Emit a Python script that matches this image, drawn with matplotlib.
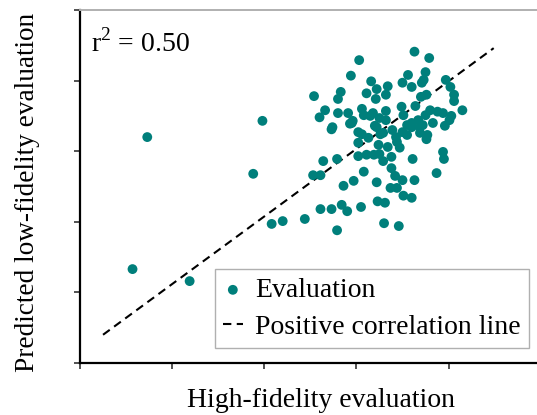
import matplotlib
matplotlib.use("Agg")
import matplotlib.pyplot as plt

plt.rcParams["font.family"] = ["Liberation Serif", "DejaVu Serif"]
plt.rcParams["mathtext.fontset"] = "custom"
plt.rcParams["mathtext.rm"] = "Liberation Serif"

TEAL = "#007F7B"

# high-fidelity (x) vs predicted low-fidelity (y), arbitrary units
hf_eval = [7.3, 19.8, 18.8, 5.7, 11.9, 20.8, 22.0, 24.4, 26.1, 27.3,
           28.4, 29.0, 30.5, 27.9, 32.3, 33.1, 35.1, 36.0, 33.0, 34.6,
           28.6, 29.7, 32.2, 33.7, 34.4, 35.0, 36.3, 25.3, 26.1, 30.8,
           33.8, 34.2, 38.7, 39.4, 39.5, 36.1, 26.4, 27.9, 30.2, 31.1,
           31.9, 32.5, 32.9, 33.8, 32.4, 33.4, 34.7, 30.2, 27.3, 29.3,
           29.6, 30.2, 30.6, 31.3, 32.0, 32.9, 33.9, 35.0, 36.0, 37.2,
           37.7, 38.3, 39.6, 36.9, 37.6, 34.4, 35.5, 32.6, 34.3, 36.3,
           37.9, 30.3, 29.4, 31.6, 35.6, 35.0, 36.0, 37.5, 37.3, 39.7,
           40.2, 40.6, 40.6, 41.5, 25.4, 28.3, 28.0, 31.1, 32.2, 32.1,
           33.4, 33.2, 37.0, 37.6, 36.4, 26.6, 26.0, 28.0, 29.1, 30.6,
           30.8, 31.5, 29.5, 32.5, 33.2, 33.2, 34.9, 35.1, 38.0, 37.5,
           38.8, 39.4, 40.3, 32.2, 35.5, 36.0, 36.9, 31.8, 36.7, 27.4,
           37.1, 40.1]
lf_pred = [32.0, 34.3, 26.8, 13.3, 11.6, 19.7, 20.1, 20.4, 21.8, 21.8,
           22.4, 21.5, 22.1, 18.8, 22.9, 22.7, 23.7, 23.4, 19.8, 19.4,
           25.1, 25.8, 25.6, 24.8, 24.8, 25.9, 25.9, 26.6, 26.6, 27.1,
           27.6, 26.5, 26.9, 29.9, 28.9, 28.9, 28.6, 28.9, 29.3, 29.5,
           29.5, 29.6, 28.6, 29.2, 30.9, 30.6, 30.5, 31.2, 33.1, 33.9,
           34.3, 32.7, 32.4, 31.9, 33.6, 32.6, 33.0, 32.7, 34.0, 33.7,
           32.3, 34.0, 33.6, 32.6, 31.7, 31.3, 32.3, 32.4, 32.0, 44.1,
           43.2, 42.9, 40.7, 39.9, 40.8, 39.7, 39.1, 41.2, 40.1, 40.1,
           39.1, 38.0, 37.1, 35.8, 37.8, 38.4, 37.4, 38.2, 38.8, 37.4,
           39.2, 38.0, 37.7, 38.0, 36.4, 35.8, 34.8, 35.4, 35.4, 36.0,
           35.1, 35.0, 34.0, 34.7, 35.7, 34.4, 36.3, 35.1, 35.8, 35.1,
           35.6, 35.4, 35.0, 33.4, 33.7, 33.4, 33.4, 35.4, 34.4, 33.4,
           39.7, 34.4]

line_x = [2.5, 44.9]
line_y = [4.0, 44.6]

fig = plt.figure(figsize=(5.37, 4.15), dpi=100)
ax = fig.add_axes([80 / 537, 52 / 415, 457 / 537, 353 / 415])

ax.scatter(hf_eval, lf_pred, s=50, color=TEAL, edgecolors="none", zorder=3,
           label="Evaluation")
ax.plot(line_x, line_y, color="black", lw=1.5, ls=(0, (4, 2.6)), zorder=2,
        label="Positive correlation line")

ax.set_xlim(0, 49.6)
ax.set_ylim(0, 50)
ax.set_xticks([0, 10, 20, 30, 40])
ax.set_yticks([0, 10, 20, 30, 40, 50])
ax.set_xticklabels([]); ax.set_yticklabels([])
ax.tick_params(direction="out", length=4, width=1.2, colors="#333333")
for s in ("left", "bottom"):
    ax.spines[s].set_linewidth(1.6)
    ax.spines[s].set_color("black")
ax.spines["top"].set_color("#B0B0B0")
ax.spines["top"].set_linewidth(1.4)
ax.spines["right"].set_visible(False)

ax.text(0.025, 0.945, r"r$^2$ = 0.50", transform=ax.transAxes, fontsize=20,
        ha="left", va="top")
ax.set_xlabel("High-fidelity evaluation", fontsize=20)
ax.xaxis.set_label_coords(0.527, -0.072)
ax.set_ylabel("Predicted low-fidelity evaluation", fontsize=19.6)
ax.yaxis.set_label_coords(-0.088, 0.484)

leg = ax.legend(loc="lower right", bbox_to_anchor=(0.9825, 0.0425),
                borderaxespad=0, fontsize=20, fancybox=False, framealpha=1,
                edgecolor="#B0B0B0", handlelength=0.7, handletextpad=0.45,
                borderpad=0.3, labelspacing=0.4, scatterpoints=1)
leg.get_frame().set_linewidth(1.0)

fig.savefig("out.png", dpi=100, facecolor="white")
